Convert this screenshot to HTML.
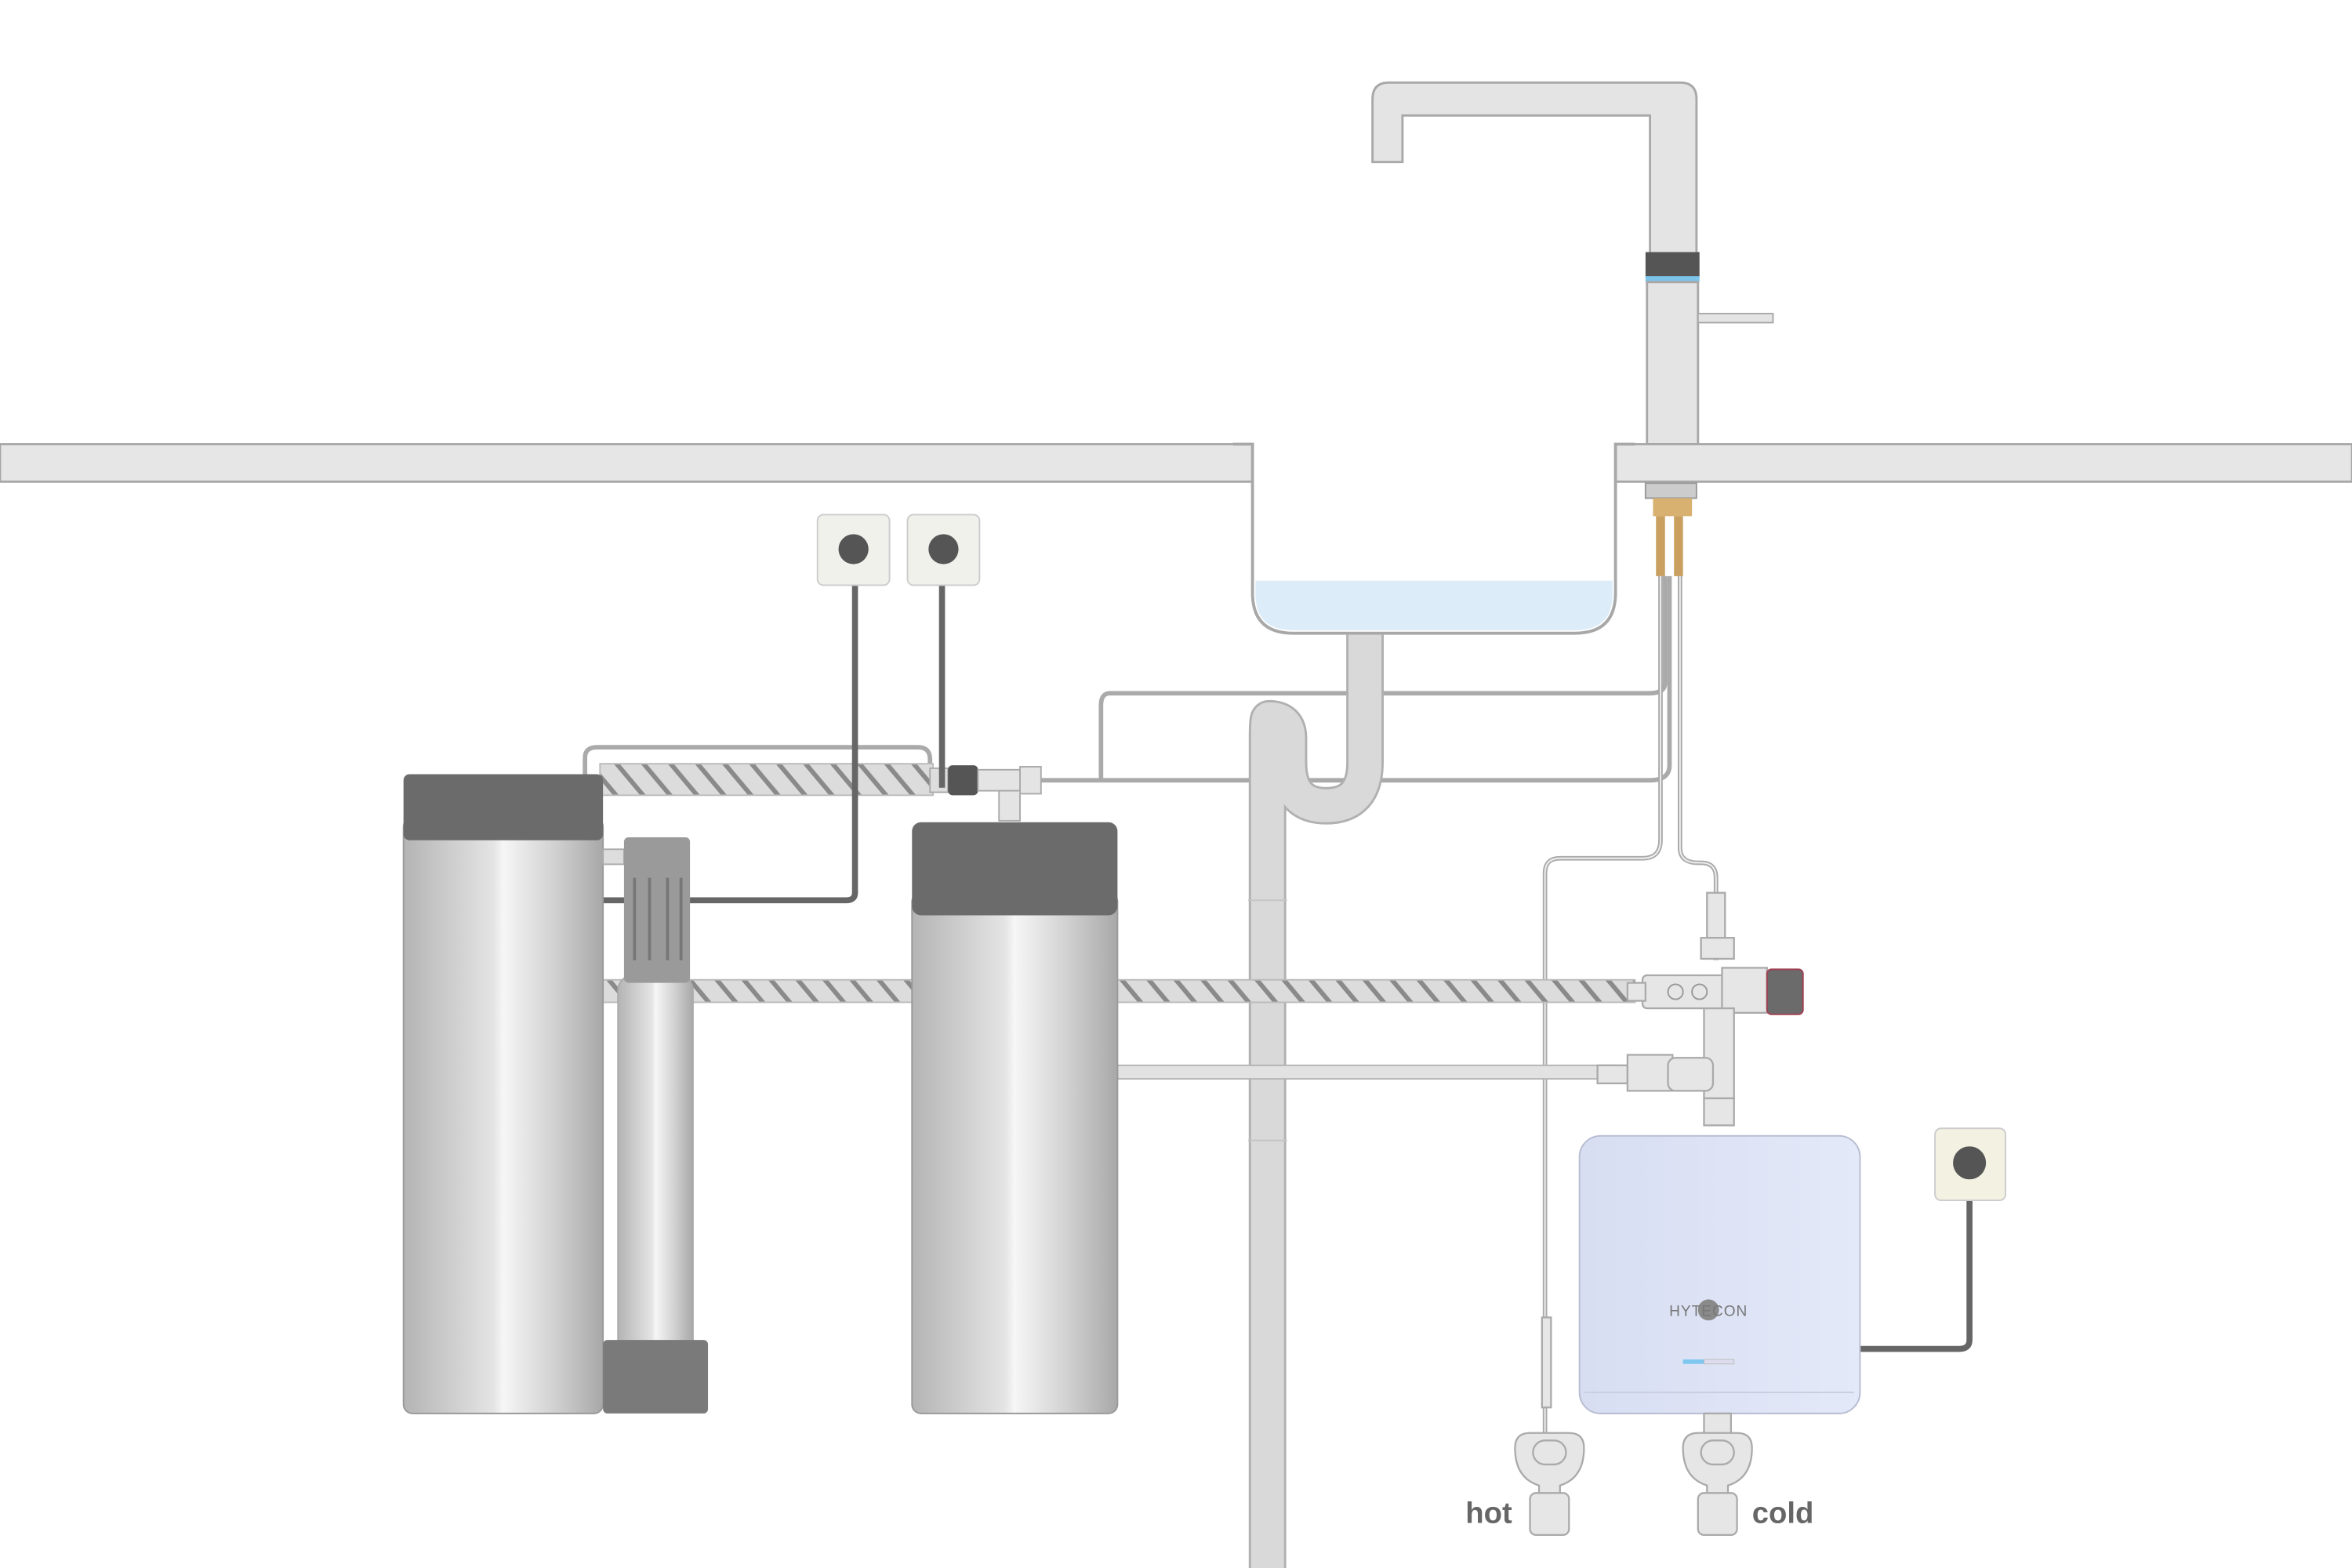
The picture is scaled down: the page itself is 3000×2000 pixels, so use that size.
<!DOCTYPE html>
<html><head><meta charset="utf-8"><style>html,body{margin:0;padding:0;background:#fff}svg{display:block}</style></head><body>
<svg width="3000" height="2000" viewBox="0 0 1568 1045" preserveAspectRatio="none" xmlns="http://www.w3.org/2000/svg">
<defs>
<linearGradient id="cyl" x1="0" x2="1" y1="0" y2="0">
<stop offset="0" stop-color="#b4b4b4"/><stop offset="0.45" stop-color="#e4e4e4"/><stop offset="0.5" stop-color="#f6f6f6"/><stop offset="0.75" stop-color="#d2d2d2"/><stop offset="1" stop-color="#a8a8a8"/></linearGradient>
<pattern id="hatch" width="18" height="20" patternUnits="userSpaceOnUse" patternTransform="skewX(40)">
<rect width="18" height="20" fill="#dcdcdc"/><rect width="4" height="20" fill="#8a8a8a"/></pattern>
<linearGradient id="heat" x1="0" x2="1"><stop offset="0" stop-color="#d8def2"/><stop offset="1" stop-color="#e3e9f8"/></linearGradient>
</defs>
<rect width="1568" height="1045" fill="#fff"/>
<!-- faucet -->
<path d="M915 108 V66 Q915 55 926 55 H1120 Q1131 55 1131 66 V170 H1100 V77 H935 V108 Z" fill="#e4e4e4" stroke="#a8a8a8" stroke-width="1.5"/>
<rect x="1097" y="168" width="36" height="17" fill="#555"/>
<rect x="1097" y="184" width="36" height="4" fill="#7cc4ea"/>
<rect x="1098" y="188" width="34" height="108" fill="#e4e4e4" stroke="#a8a8a8" stroke-width="1.5"/>
<rect x="1132" y="209" width="50" height="6" fill="#e4e4e4" stroke="#a8a8a8"/>
<!-- countertop -->
<rect x="0" y="296" width="835" height="25" fill="#e6e6e6" stroke="#a8a8a8" stroke-width="1.5"/>
<rect x="1077" y="296" width="491" height="25" fill="#e6e6e6" stroke="#a8a8a8" stroke-width="1.5"/>
<path d="M822 296 H835 V395 Q835 422 862 422 H1050 Q1077 422 1077 395 V296 H1090" fill="#fff" stroke="#a8a8a8" stroke-width="2"/>
<path d="M837 387 H1075 V396 Q1075 420 1050 420 H862 Q837 420 837 396 Z" fill="#dcedf9"/>
<!-- faucet base fitting -->
<rect x="1097" y="322" width="34" height="10" fill="#ccc" stroke="#999"/>
<rect x="1102" y="332" width="26" height="12" fill="#d8b070"/>
<rect x="1104" y="344" width="6" height="40" fill="#c9a060"/><rect x="1116" y="344" width="6" height="40" fill="#c9a060"/>
<!-- thin tubes -->
<g fill="none" stroke="#aaa" stroke-width="3">
<path d="M1107 384 V560 Q1107 572 1095 572 H1040 Q1030 572 1030 582 V960"/>
<path d="M1120 384 V565 Q1120 575 1132 575 H1134 Q1144 575 1144 585 V640"/>
<path d="M1110 384 V455 Q1110 462 1100 462 H740 Q734 462 734 470 V520"/>
<path d="M1113 384 V510 Q1113 520 1100 520 H690"/>
<path d="M390 516 V505 Q390 498 398 498 H612 Q620 498 620 506 V520"/>
</g>
<g fill="none" stroke="#eee" stroke-width="1"><path d="M1107 384 V560 Q1107 572 1095 572 H1040 Q1030 572 1030 582 V960"/><path d="M1120 384 V565 Q1120 575 1132 575 H1134 Q1144 575 1144 585 V640"/></g>
<!-- drain -->
<path d="M910 423 V508 Q910 537 884 537 Q859 537 859 508 V492 Q859 479 846 479 Q845 479 845 492 V1045" fill="none" stroke="#b0b0b0" stroke-width="25" stroke-linejoin="round"/>
<path d="M910 423 V508 Q910 537 884 537 Q859 537 859 508 V492 Q859 479 846 479 Q845 479 845 492 V1045" fill="none" stroke="#d9d9d9" stroke-width="22" stroke-linejoin="round"/>
<line x1="832" y1="600" x2="858" y2="600" stroke="#c4c4c4"/>
<line x1="832" y1="760" x2="858" y2="760" stroke="#c4c4c4"/>
<!-- hatched hoses -->
<rect x="400" y="509" width="222" height="21" fill="url(#hatch)" stroke="#bbb"/>
<rect x="400" y="653" width="690" height="15" fill="url(#hatch)" stroke="#bbb"/>
<rect x="745" y="710" width="335" height="9" fill="#e2e2e2" stroke="#b4b4b4"/>
<!-- fitting near tank2 -->
<rect x="620" y="512" width="12" height="16" fill="#ddd" stroke="#aaa"/>
<rect x="632" y="510" width="20" height="20" rx="3" fill="#555"/>
<rect x="652" y="513" width="28" height="14" fill="#e4e4e4" stroke="#aaa"/>
<rect x="680" y="511" width="14" height="18" fill="#e4e4e4" stroke="#aaa"/>
<rect x="666" y="527" width="14" height="20" fill="#e4e4e4" stroke="#aaa"/>
<!-- sockets and cables -->
<g fill="none" stroke="#666" stroke-width="4">
<path d="M570 368 V595 Q570 600 564 600 H400"/>
<path d="M628 368 V525"/>
<path d="M1313 776 V893 Q1313 899 1306 899 H1240"/>
</g>
<rect x="545" y="343" width="48" height="47" rx="4" fill="#f1f1ec" stroke="#ccc"/>
<rect x="605" y="343" width="48" height="47" rx="4" fill="#f1f1ec" stroke="#ccc"/>
<rect x="1290" y="752" width="47" height="48" rx="4" fill="#f3f1e2" stroke="#ccc"/>
<circle cx="569" cy="366" r="10" fill="#555"/><circle cx="629" cy="366" r="10" fill="#555"/><circle cx="1313" cy="775" r="11" fill="#555"/>
<!-- tank 1 -->
<rect x="269" y="545" width="133" height="397" rx="6" fill="url(#cyl)" stroke="#999"/>
<rect x="269" y="516" width="133" height="44" rx="4" fill="#6b6b6b"/>
<!-- filter -->
<rect x="402" y="566" width="14" height="10" fill="#ddd" stroke="#aaa"/>
<rect x="412" y="650" width="50" height="255" rx="10" fill="url(#cyl)" stroke="#aaa"/>
<rect x="416" y="558" width="44" height="97" rx="3" fill="#9a9a9a"/>
<g stroke="#777" stroke-width="2"><line x1="423" y1="585" x2="423" y2="640"/><line x1="433" y1="585" x2="433" y2="640"/><line x1="445" y1="585" x2="445" y2="640"/><line x1="454" y1="585" x2="454" y2="640"/></g>
<rect x="402" y="893" width="70" height="49" rx="3" fill="#7a7a7a"/>
<!-- tank 2 -->
<rect x="608" y="595" width="137" height="347" rx="6" fill="url(#cyl)" stroke="#999"/>
<rect x="608" y="548" width="137" height="62" rx="6" fill="#6b6b6b"/>
<!-- valve group -->
<g fill="#e6e6e6" stroke="#aaa" stroke-width="1.2">
<rect x="1138" y="595" width="12" height="30"/>
<rect x="1134" y="625" width="22" height="14"/>
<rect x="1095" y="650" width="60" height="22" rx="3"/>
<rect x="1085" y="655" width="12" height="12"/>
<rect x="1148" y="645" width="30" height="30"/>
<rect x="1136" y="672" width="20" height="60"/>
<rect x="1065" y="710" width="20" height="12"/>
<rect x="1085" y="703" width="30" height="24"/>
<rect x="1112" y="705" width="30" height="22" rx="5"/>
<rect x="1136" y="732" width="20" height="18"/>
<rect x="1028" y="878" width="6" height="60"/>
</g>
<circle cx="1117" cy="661" r="5" fill="none" stroke="#999"/><circle cx="1133" cy="661" r="5" fill="none" stroke="#999"/>
<rect x="1178" y="646" width="24" height="30" rx="3" fill="#6b6b6b" stroke="#a04050"/>
<!-- heater -->
<rect x="1053" y="757" width="187" height="185" rx="14" fill="url(#heat)" stroke="#b8bcd0"/>
<line x1="1056" x2="1236" y1="928" y2="928" stroke="#c8cde0"/>
<circle cx="1139" cy="873" r="7" fill="#8a8a8a"/>
<text x="1139" y="877" font-family="Liberation Sans, sans-serif" font-size="10" fill="#777" text-anchor="middle" letter-spacing="0.5">HYTECON</text>
<rect x="1122" y="906" width="14" height="3" fill="#7ec8f0"/><rect x="1136" y="906" width="20" height="3" fill="#dde" stroke="#bbb" stroke-width=".5"/>
<!-- floor valves -->
<g fill="#e6e6e6" stroke="#aaa" stroke-width="1.2">
<path d="M1010 965 Q1010 955 1020 955 H1046 Q1056 955 1056 965 Q1056 985 1040 990 V1000 H1026 V990 Q1010 985 1010 965 Z"/>
<rect x="1020" y="995" width="26" height="28" rx="4"/>
<rect x="1022" y="960" width="22" height="16" rx="8"/>
<rect x="1136" y="942" width="18" height="14"/>
<path d="M1122 965 Q1122 955 1132 955 H1158 Q1168 955 1168 965 Q1168 985 1152 990 V1000 H1138 V990 Q1122 985 1122 965 Z"/>
<rect x="1132" y="995" width="26" height="28" rx="4"/>
<rect x="1134" y="960" width="22" height="16" rx="8"/>
</g>
<text x="977" y="1015" font-family="Liberation Sans, DejaVu Sans, sans-serif" font-size="20" font-weight="bold" fill="#666">hot</text>
<text x="1168" y="1015" font-family="Liberation Sans, DejaVu Sans, sans-serif" font-size="20" font-weight="bold" fill="#666">cold</text>
</svg>
</body></html>
